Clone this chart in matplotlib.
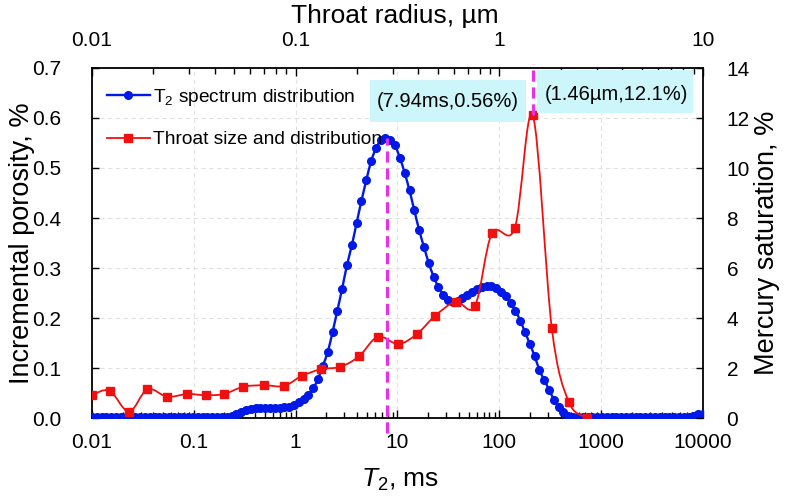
import numpy as np
import matplotlib.pyplot as plt
from matplotlib import ticker
from matplotlib.path import Path
from matplotlib.patches import PathPatch, Rectangle
from matplotlib.lines import Line2D

plt.rcParams['font.family'] = ['Liberation Sans', 'DejaVu Sans']
plt.rcParams['mathtext.fontset'] = 'custom'
plt.rcParams['mathtext.rm'] = 'Liberation Sans'
plt.rcParams['mathtext.it'] = 'Liberation Sans:italic'

# T2 spectrum (128 log-spaced relaxation times, 0.01 - 10000 ms)
t2_ms = np.logspace(-2, 4, 128)
porosity = [
    0.002, 0.002, 0.002, 0.002, 0.002, 0.002, 0.002, 0.002, 0.002, 0.002,
    0.002, 0.002, 0.002, 0.002, 0.002, 0.002, 0.002, 0.002, 0.002, 0.002,
    0.002, 0.002, 0.002, 0.002, 0.002, 0.002, 0.002, 0.002, 0.003, 0.005,
    0.008, 0.012, 0.016, 0.018, 0.020, 0.021, 0.021, 0.021, 0.021, 0.021,
    0.022, 0.023, 0.027, 0.032, 0.038, 0.047, 0.060, 0.078, 0.105, 0.132,
    0.172, 0.215, 0.259, 0.306, 0.345, 0.390, 0.434, 0.475, 0.513, 0.539,
    0.555, 0.559, 0.556, 0.545, 0.520, 0.490, 0.455, 0.415, 0.376, 0.342,
    0.310, 0.283, 0.262, 0.246, 0.236, 0.233, 0.234, 0.240, 0.247, 0.253,
    0.258, 0.263, 0.265, 0.264, 0.260, 0.253, 0.244, 0.230, 0.215, 0.195,
    0.172, 0.148, 0.124, 0.096, 0.076, 0.057, 0.037, 0.023, 0.012, 0.005,
    0.003, 0.002, 0.002, 0.002, 0.002, 0.002, 0.002, 0.002, 0.002, 0.002,
    0.002, 0.002, 0.002, 0.002, 0.002, 0.002, 0.002, 0.002, 0.002, 0.002,
    0.002, 0.002, 0.002, 0.002, 0.003, 0.005, 0.008, 0.009,
]

# mercury injection: throat radius (um) vs saturation increment (%)
radius_um = [0.01, 0.0122, 0.0152, 0.0187, 0.0234, 0.0294, 0.0361, 0.0445,
             0.0553, 0.0698, 0.0876, 0.107, 0.133, 0.166, 0.205, 0.253,
             0.319, 0.393, 0.483, 0.61, 0.759, 0.92, 1.19, 1.46, 1.81,
             2.19, 2.68]
saturation = [0.92, 1.09, 0.25, 1.15, 0.85, 0.96, 0.91, 0.96, 1.25, 1.31,
              1.28, 1.68, 1.95, 2.05, 2.47, 3.25, 2.96, 3.35, 4.08, 4.65,
              4.48, 7.39, 7.59, 12.1, 3.59, 0.65, 0.02]

peak_t2, peak_por = 7.94, 0.56
peak_r, peak_sat = 1.46, 12.1

t2_ticks = [0.01, 0.1, 1, 10, 100, 1000, 10000]
r_ticks = [0.01, 0.1, 1, 10]

BLUE = '#0018E8'
RED = '#F01010'
MAGENTA = '#E830E8'


def smooth_path(xs, ys):
    # excel-style smoothed line: cubic bezier segments in log-x space
    u = np.log10(np.asarray(xs, float))
    v = np.asarray(ys, float)
    n = len(u)
    verts = [(u[0], v[0])]
    codes = [Path.MOVETO]
    for i in range(n - 1):
        a, d = max(i - 1, 0), min(i + 2, n - 1)
        c1 = (u[i] + (u[i + 1] - u[a]) / 6, v[i] + (v[i + 1] - v[a]) / 6)
        c2 = (u[i + 1] - (u[d] - u[i]) / 6, v[i + 1] - (v[d] - v[i]) / 6)
        verts += [c1, c2, (u[i + 1], v[i + 1])]
        codes += [Path.CURVE4] * 3
    verts = np.array(verts)
    verts[:, 0] = 10 ** verts[:, 0]
    return Path(verts, codes)


fig = plt.figure(figsize=(7.87, 4.98), dpi=100)
ax = fig.add_axes([92 / 787, 80 / 498, 611 / 787, 350 / 498])
ax2 = fig.add_axes(ax.get_position(), frameon=False)

# T2 curve (bottom / left axes)
ax.add_patch(PathPatch(smooth_path(t2_ms, porosity), fill=False,
                       edgecolor=BLUE, lw=1.7, zorder=3))
ax.plot(t2_ms, porosity, 'o', color=BLUE, ms=5.5, zorder=4)
ax.set_xscale('log')
ax.set_xlim(0.01, 10000)
ax.set_ylim(0, 0.7)
ax.yaxis.set_major_locator(ticker.MultipleLocator(0.1))
ax.yaxis.set_major_formatter(ticker.FormatStrFormatter('%.1f'))
ax.set_xticks(t2_ticks)
ax.xaxis.set_minor_locator(ticker.LogLocator(base=10, subs=np.arange(2, 10), numticks=100))
ax.xaxis.set_major_formatter(ticker.FuncFormatter(lambda v, _: f'{v:g}'))
ax.xaxis.set_minor_formatter(ticker.NullFormatter())
ax.grid(True, which='major', linestyle=(0, (4, 3)), color='#e2e2e2', lw=0.8)
ax.tick_params(which='both', direction='in', top=False, right=False,
               labelsize=15, width=1.0)
ax.tick_params(axis='x', which='major', length=6, pad=11)
ax.tick_params(axis='x', which='minor', length=4)
ax.tick_params(axis='y', length=5, pad=22)
for s in ax.spines.values():
    s.set_linewidth(1.3)

ax.set_xlabel(r'$T_2$, ms', fontsize=19, va='center')
ax.xaxis.set_label_coords(0.504, -0.177)
ax.set_ylabel('Incremental porosity, %', fontsize=19.5, va='center')
ax.yaxis.set_label_coords(-0.115, 0.5)

# throat curve (top / right axes)
ax2.add_patch(PathPatch(smooth_path(radius_um, saturation), fill=False,
                        edgecolor=RED, lw=1.3, zorder=3))
ax2.plot(radius_um, saturation, 's', color=RED, ms=5.2, zorder=4)
ax2.set_xscale('log')
ax2.set_xlim(0.01, 10)
ax2.set_ylim(0, 14)
ax2.yaxis.set_major_locator(ticker.MultipleLocator(2))
ax2.set_xticks(r_ticks)
ax2.xaxis.set_minor_locator(ticker.LogLocator(base=10, subs=np.arange(2, 10), numticks=100))
ax2.xaxis.set_major_formatter(ticker.FuncFormatter(lambda v, _: f'{v:g}'))
ax2.xaxis.set_minor_formatter(ticker.NullFormatter())
ax2.xaxis.tick_top()
ax2.yaxis.tick_right()
ax2.tick_params(which='both', direction='in', labelsize=15, width=1.0)
ax2.tick_params(axis='x', which='major', length=6, pad=13)
ax2.tick_params(axis='x', which='minor', length=4)
ax2.tick_params(axis='y', length=5, pad=17)
ax2.xaxis.set_label_position('top')
ax2.yaxis.set_label_position('right')
ax2.set_xlabel('Throat radius, µm', fontsize=19, va='center')
ax2.xaxis.set_label_coords(0.496, 1.148)
ax2.set_ylabel('Mercury saturation, %', fontsize=19.5, va='center', rotation=90)
ax2.yaxis.set_label_coords(1.105, 0.5)

# peak markers
ax2.plot([peak_t2, peak_t2], [-0.03, peak_por], transform=ax.transData,
         color=MAGENTA, lw=2.3, dashes=(3.5, 1.8), clip_on=False, zorder=5)
ax2.plot([peak_r, peak_r], [peak_sat, 14.15], color=MAGENTA, lw=2.3,
         dashes=(3.5, 1.8), clip_on=False, zorder=5)

box_kw = dict(transform=ax2.transAxes, facecolor='#CCF6FA', edgecolor='none', zorder=6)
ax2.add_patch(Rectangle((0.455, 0.846), 0.255, 0.120, **box_kw))
ax2.add_patch(Rectangle((0.728, 0.871), 0.256, 0.123, **box_kw))
ax2.text(0.583, 0.903, f'({peak_t2}ms,{peak_por}%)', transform=ax2.transAxes,
         ha='center', va='center', fontsize=14.5, zorder=7)
ax2.text(0.858, 0.923, f'({peak_r}µm,{peak_sat}%)', transform=ax2.transAxes,
         ha='center', va='center', fontsize=14.5, zorder=7)

handles = [Line2D([], [], color=BLUE, lw=1.7, marker='o', ms=5.5),
           Line2D([], [], color=RED, lw=1.3, marker='s', ms=5.2)]
labels = [r'T$_{\mathregular{2}}$ spectrum distribution', 'Throat size and distribution']
ax2.legend(handles, labels, loc='upper left', bbox_to_anchor=(0.0, 0.99),
           frameon=False, fontsize=13.8, handlelength=2.2, handletextpad=0.2,
           labelspacing=1.2, borderaxespad=0.4)

fig.savefig('out.png', dpi=100)
